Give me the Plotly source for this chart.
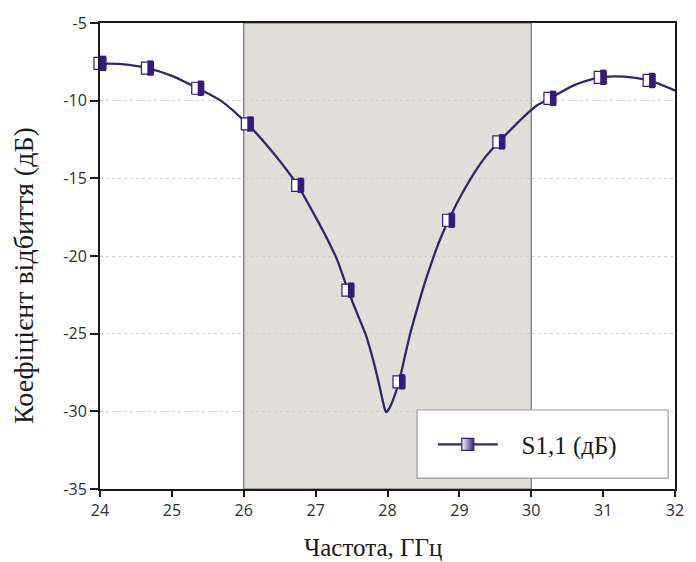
import plotly.graph_objects as go

# Continuous S11 response, GHz / dB
freq_curve = [24.0, 24.3, 24.66, 25.0, 25.36, 25.68, 26.05, 26.4, 26.75, 27.0,
              27.15, 27.3, 27.4, 27.5, 27.6, 27.7, 27.8, 27.88, 27.94, 27.98,
              28.02, 28.07, 28.12, 28.16, 28.24, 28.31, 28.4, 28.5, 28.6, 28.7,
              28.8, 28.85, 29.0, 29.16, 29.35, 29.55, 29.75, 29.95, 30.1, 30.26,
              30.6, 30.96, 31.3, 31.64, 32.0]
s11_curve = [-7.6, -7.65, -7.9, -8.4, -9.2, -10.0, -11.5, -13.3, -15.45, -17.5,
             -18.8, -20.25, -21.55, -22.8, -23.95, -25.1, -26.7, -28.2, -29.45, -30.05,
             -29.85, -29.35, -28.7, -28.1, -26.5, -25.1, -23.6, -22.0, -20.6, -19.3,
             -18.2, -17.7, -16.3, -15.0, -13.7, -12.65, -11.7, -10.8, -10.25, -9.85,
             -9.0, -8.5, -8.45, -8.7, -9.35]

# Marker samples
freq_marks = [24.0, 24.66, 25.36, 26.05, 26.75, 27.45, 28.16, 28.85, 29.55, 30.26, 30.96, 31.64]
s11_marks = [-7.6, -7.9, -9.2, -11.5, -15.45, -22.2, -28.1, -17.7, -12.65, -9.85, -8.5, -8.7]

band = [26, 30]
x_ticks = [24, 25, 26, 27, 28, 29, 30, 31, 32]
y_ticks = [-35, -30, -25, -20, -15, -10, -5]
y_ticktext = [str(v) for v in y_ticks]  # plain hyphen-minus labels

NAVY_LINE = "#2c2a6c"
NAVY_FILL = "#34197f"

W, H = 696, 562
L, R, T, B = 100, 12, 17, 73
plot_w = W - L - R
plot_h = H - T - B
px_per_ghz = plot_w / (x_ticks[-1] - x_ticks[0])
half_shift = 3.0 / px_per_ghz  # offset for the dark half of each marker


def px_x(px):
    return (px - L) / plot_w


def px_y(py):
    return (H - B - py) / plot_h


fig = go.Figure()

fig.add_vrect(x0=band[0], x1=band[1], fillcolor="#e2deda", opacity=1,
              line=dict(color="#8a8a8a", width=1.5), layer="below")

# legend frame
fig.add_shape(type="rect", xref="paper", yref="paper",
              x0=px_x(422), x1=px_x(677), y0=px_y(478), y1=px_y(409),
              fillcolor="white", line=dict(color="#9a9a9a", width=1.2), layer="above")

fig.add_trace(go.Scatter(
    x=freq_curve, y=s11_curve, mode="lines",
    line=dict(color=NAVY_LINE, width=2.3, shape="spline", smoothing=0.7),
    showlegend=False, hoverinfo="skip"))

fig.add_trace(go.Scatter(
    x=freq_marks, y=s11_marks, mode="markers", showlegend=False,
    marker=dict(symbol="square", size=12, color="white",
                line=dict(color=NAVY_FILL, width=1.2)),
    cliponaxis=False))

fig.add_trace(go.Scatter(
    x=freq_marks, y=s11_marks, mode="markers", xaxis="x2", showlegend=False,
    marker=dict(symbol="line-ns", size=11, color=NAVY_FILL,
                line=dict(color=NAVY_FILL, width=6)),
    cliponaxis=False, hoverinfo="skip"))

# legend entry
fig.add_trace(go.Scatter(
    x=[None], y=[None], mode="lines+markers", name="\u00a0\u00a0\u00a0S1,1 (дБ)",
    line=dict(color=NAVY_LINE, width=2.3),
    marker=dict(symbol="square", size=12, color="white",
                gradient=dict(type="horizontal", color=NAVY_FILL),
                line=dict(color=NAVY_FILL, width=1.2))))

tick_font = dict(family="Open Sans, DejaVu Sans, sans-serif", size=16, color="#2e2e2e")
serif = "Liberation Serif, Times New Roman, serif"

fig.update_layout(
    width=W, height=H,
    margin=dict(l=L, r=R, t=T, b=B),
    paper_bgcolor="white", plot_bgcolor="white",
    xaxis=dict(range=[x_ticks[0], x_ticks[-1]], tickvals=x_ticks, showgrid=False,
               zeroline=False, showline=True, linecolor="#1a1a1a", linewidth=2, mirror=True,
               ticks="outside", ticklen=6, tickwidth=2, tickcolor="#1a1a1a",
               tickfont=tick_font),
    xaxis2=dict(range=[x_ticks[0] - half_shift, x_ticks[-1] - half_shift], overlaying="x",
                visible=False),
    yaxis=dict(range=[y_ticks[0], y_ticks[-1]], tickvals=y_ticks, ticktext=y_ticktext,
               showgrid=True, gridcolor="#cfcfcf", griddash="dot", gridwidth=1,
               zeroline=False, showline=True, linecolor="#1a1a1a", linewidth=2, mirror=True,
               ticks="outside", ticklen=8, tickwidth=2, tickcolor="#1a1a1a",
               tickfont=tick_font),
    legend=dict(x=px_x(438), y=px_y(444), xanchor="left", yanchor="middle",
                bgcolor="rgba(0,0,0,0)", borderwidth=0,
                font=dict(family=serif, size=25, color="#1a1a1a"),
                itemwidth=60),
    annotations=[
        dict(text="Частота, ГГц", x=px_x(377), y=px_y(548),
             xref="paper", yref="paper", showarrow=False, xanchor="center", yanchor="middle",
             font=dict(family=serif, size=25, color="#1a1a1a")),
        dict(text="Коефіцієнт відбиття (дБ)", x=px_x(23), y=px_y(273),
             xref="paper", yref="paper", showarrow=False, textangle=-90,
             xanchor="center", yanchor="middle",
             font=dict(family=serif, size=28, color="#1a1a1a")),
    ],
)

fig.write_html("out.html")
